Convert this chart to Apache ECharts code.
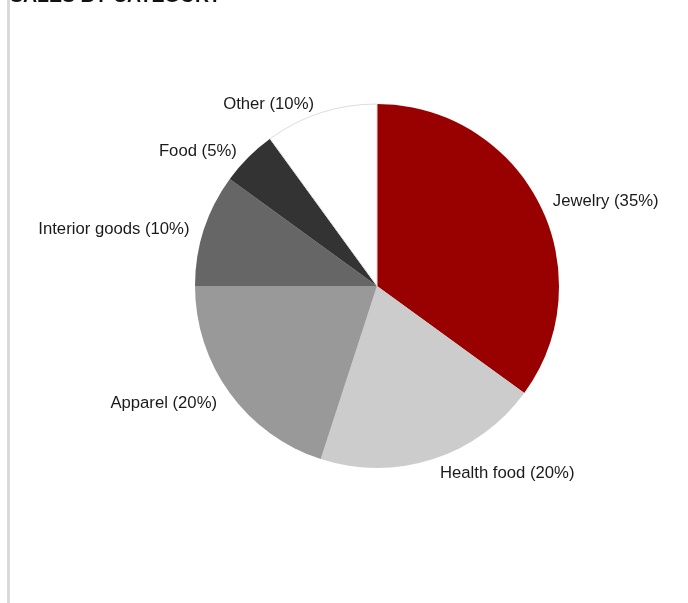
<!DOCTYPE html>
<html>
<head>
<meta charset="utf-8">
<script src="https://cdn.jsdelivr.net/npm/echarts@6/dist/echarts.min.js"></script>
<style>
  html, body { margin: 0; padding: 0; background: #ffffff; }
  #chart { width: 688px; height: 603px; }
</style>
</head>
<body>
<div id="chart"></div>
<script>
// Share of sales per product category (percent)
const categories = ['Jewelry', 'Health food', 'Apparel', 'Interior goods', 'Food', 'Other'];
const shares = [35, 20, 20, 10, 5, 10];
const sliceColors = ['#990000', '#cccccc', '#999999', '#666666', '#333333', '#ffffff'];

const chart = echarts.init(document.getElementById('chart'), null, { renderer: 'canvas' });

const pieData = categories.map((name, i) => ({
  name: name,
  value: shares[i],
  itemStyle: name === 'Other'
    ? { color: sliceColors[i], borderColor: '#dddddd', borderWidth: 1 }
    : { color: sliceColors[i] }
}));

chart.setOption({
  animation: false,
  backgroundColor: '#ffffff',
  title: {
    text: 'SALES BY CATEGORY',
    left: 10,
    top: -13,
    padding: 0,
    textStyle: {
      fontFamily: 'Liberation Sans, Arial, sans-serif',
      fontSize: 19.5,
      fontWeight: 'bold',
      color: '#111111'
    }
  },
  graphic: [{
    type: 'rect',
    left: 7,
    top: 0,
    shape: { width: 3, height: 603 },
    style: { fill: '#d9d9d9' },
    silent: true
  }],
  series: [{
    type: 'pie',
    center: [377, 286],
    radius: 182,
    startAngle: 90,
    clockwise: true,
    avoidLabelOverlap: false,
    label: {
      show: true,
      position: 'outside',
      formatter: '{b} ({c}%)',
      fontFamily: 'Liberation Sans, Arial, sans-serif',
      fontSize: 16.7,
      color: '#1a1a1a',
      distanceToLabelLine: 3,
      offset: [0, 3]
    },
    labelLine: { show: false, length: 12, length2: 0 },
    emphasis: { disabled: true },
    data: pieData
  }]
});
</script>
</body>
</html>
